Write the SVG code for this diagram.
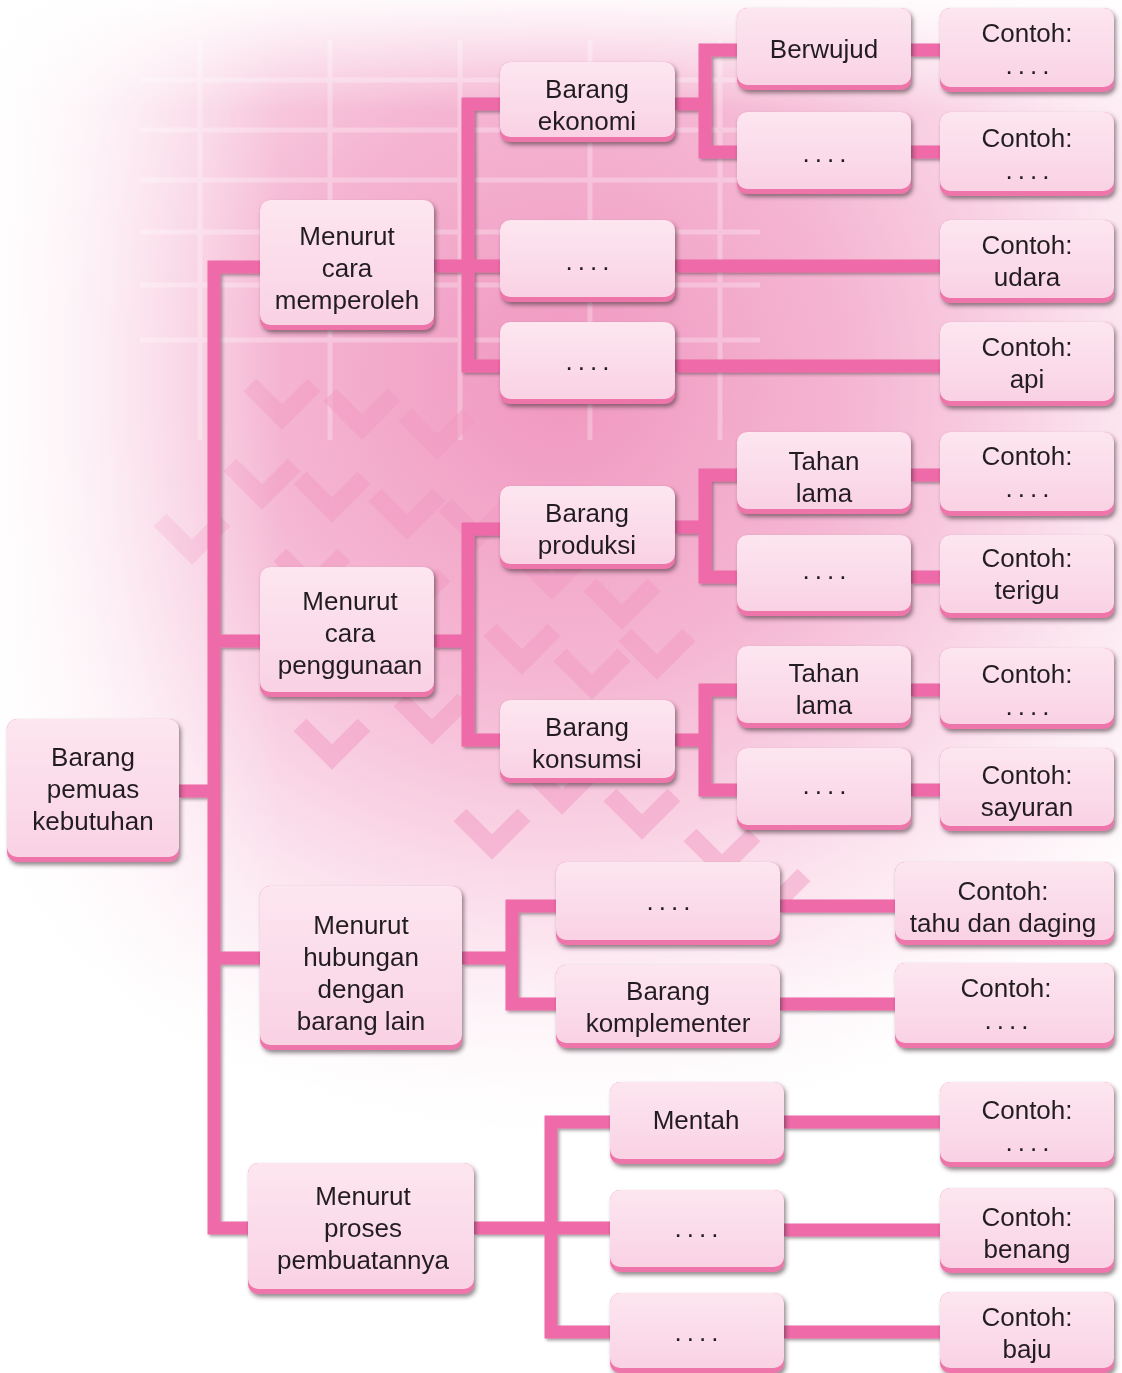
<svg xmlns="http://www.w3.org/2000/svg" width="1122" height="1373" viewBox="0 0 1122 1373">
<style>
.band{fill:#ee74aa}
.face{fill:url(#faceG)}
.bx{filter:url(#sh)}
text{font-family:"Liberation Sans",Arial,sans-serif;font-size:26px;fill:#231f20;text-anchor:middle}
.dots{letter-spacing:5px}
.con{fill:none;stroke:#ef6ba8;stroke-width:13;stroke-linejoin:miter;stroke-linecap:butt}
.grid{stroke:#ffffff;stroke-width:5;fill:none}
.chev{fill:none;stroke:#f29ac2;stroke-width:18}
</style>
<defs>
<linearGradient id="faceG" x1="0" y1="0" x2="0" y2="1">
<stop offset="0" stop-color="#fde6f0"/>
<stop offset="1" stop-color="#f9d2e4"/>
</linearGradient>
<radialGradient id="bgR" cx="560" cy="380" r="760" gradientUnits="userSpaceOnUse">
<stop offset="0" stop-color="#f097c0"/>
<stop offset="0.4" stop-color="#f5b7d3"/>
<stop offset="0.75" stop-color="#fce6f0"/>
<stop offset="1" stop-color="#ffffff"/>
</radialGradient>
<linearGradient id="fadeL" x1="0" y1="0" x2="1" y2="0">
<stop offset="0" stop-color="#ffffff" stop-opacity="0.95"/>
<stop offset="0.25" stop-color="#ffffff" stop-opacity="0"/>
</linearGradient>
<linearGradient id="fadeT" x1="0" y1="0" x2="0" y2="1">
<stop offset="0" stop-color="#ffffff" stop-opacity="0.9"/>
<stop offset="0.08" stop-color="#ffffff" stop-opacity="0"/>
<stop offset="0.68" stop-color="#ffffff" stop-opacity="0"/>
<stop offset="0.82" stop-color="#ffffff" stop-opacity="0.75"/>
<stop offset="1" stop-color="#ffffff" stop-opacity="0.95"/>
</linearGradient>
<filter id="sh" x="-10%" y="-10%" width="125%" height="130%">
<feDropShadow dx="2" dy="3" stdDeviation="2" flood-color="#3a2a30" flood-opacity="0.55"/>
</filter>
<filter id="lsh" x="-5%" y="-5%" width="110%" height="110%">
<feDropShadow dx="2" dy="2" stdDeviation="1.5" flood-color="#3a2a30" flood-opacity="0.45"/>
</filter>
<clipPath id="gclip"><rect x="140" y="40" width="620" height="400"/></clipPath>
</defs>

<g id="background">
<rect x="0" y="0" width="1122" height="1373" fill="#ffffff"/>
<rect x="0" y="0" width="1122" height="1373" fill="url(#bgR)"/>
<g opacity="0.28" clip-path="url(#gclip)">
<path class="grid" d="M140 80 H760 M140 130 H760 M140 180 H760 M140 232 H760 M140 285 H760 M140 340 H760 M200 40 V440 M330 40 V440 M460 40 V440 M590 40 V440 M720 40 V440"/>
</g>
<g opacity="0.5">
<path class="chev" d="M250 385 l32 32 l32 -32 M330 395 l32 32 l32 -32 M405 415 l32 32 l32 -32 M230 465 l32 32 l32 -32 M300 478 l32 32 l32 -32 M375 495 l32 32 l32 -32 M445 505 l32 32 l32 -32 M160 520 l32 32 l32 -32 M280 555 l32 32 l32 -32 M520 555 l32 32 l32 -32 M590 585 l32 32 l32 -32 M380 575 l32 32 l32 -32 M490 630 l32 32 l32 -32 M560 655 l32 32 l32 -32 M625 635 l32 32 l32 -32 M265 640 l32 32 l32 -32 M400 700 l32 32 l32 -32 M300 725 l32 32 l32 -32 M530 770 l32 32 l32 -32 M610 795 l32 32 l32 -32 M460 815 l32 32 l32 -32 M690 835 l32 32 l32 -32 M740 875 l32 32 l32 -32"/>
</g>
<rect x="0" y="0" width="1122" height="1373" fill="url(#fadeL)"/>
<rect x="0" y="0" width="1122" height="1373" fill="url(#fadeT)"/>
</g>

<g id="connectors" filter="url(#lsh)">
<path class="con" d="M179 791 H214"/>
<path class="con" d="M262 267 H214 V1228 H250"/>
<path class="con" d="M214 641 H262"/>
<path class="con" d="M214 958 H262"/>
<path class="con" d="M434 266 H502"/>
<path class="con" d="M502 104 H468 V366 H502"/>
<path class="con" d="M675 104 H705"/>
<path class="con" d="M739 50 H705 V152 H739"/>
<path class="con" d="M911 50 H942"/>
<path class="con" d="M911 152 H942"/>
<path class="con" d="M675 266 H942"/>
<path class="con" d="M675 366 H942"/>
<path class="con" d="M434 641 H468"/>
<path class="con" d="M502 529 H468 V740 H502"/>
<path class="con" d="M675 527 H705"/>
<path class="con" d="M739 475 H705 V577 H739"/>
<path class="con" d="M911 475 H942"/>
<path class="con" d="M911 577 H942"/>
<path class="con" d="M675 740 H705"/>
<path class="con" d="M739 690 H705 V790 H739"/>
<path class="con" d="M911 690 H942"/>
<path class="con" d="M911 790 H942"/>
<path class="con" d="M462 958 H512"/>
<path class="con" d="M558 906 H512 V1004 H558"/>
<path class="con" d="M780 906 H897"/>
<path class="con" d="M780 1004 H897"/>
<path class="con" d="M474 1228 H612"/>
<path class="con" d="M612 1122 H551 V1332 H612"/>
<path class="con" d="M784 1122 H942"/>
<path class="con" d="M784 1230 H942"/>
<path class="con" d="M784 1332 H942"/>
</g>

<g id="n-root" class="bx"><rect class="band" x="7" y="719" width="172" height="143" rx="10"/><rect class="face" x="7" y="719" width="172" height="138" rx="10"/>
<text x="93" y="766">Barang</text><text x="93" y="798">pemuas</text><text x="93" y="830">kebutuhan</text></g>

<g id="n-memperoleh" class="bx"><rect class="band" x="260" y="200" width="174" height="130" rx="10"/><rect class="face" x="260" y="200" width="174" height="125" rx="10"/>
<text x="347" y="245">Menurut</text><text x="347" y="277">cara</text><text x="347" y="309">memperoleh</text></g>

<g id="n-penggunaan" class="bx"><rect class="band" x="260" y="567" width="174" height="130" rx="10"/><rect class="face" x="260" y="567" width="174" height="125" rx="10"/>
<text x="350" y="610">Menurut</text><text x="350" y="642">cara</text><text x="350" y="674">penggunaan</text></g>

<g id="n-hubungan" class="bx"><rect class="band" x="260" y="886" width="202" height="164" rx="10"/><rect class="face" x="260" y="886" width="202" height="159" rx="10"/>
<text x="361" y="934">Menurut</text><text x="361" y="966">hubungan</text><text x="361" y="998">dengan</text><text x="361" y="1030">barang lain</text></g>

<g id="n-proses" class="bx"><rect class="band" x="248" y="1163" width="226" height="131" rx="10"/><rect class="face" x="248" y="1163" width="226" height="126" rx="10"/>
<text x="363" y="1205">Menurut</text><text x="363" y="1237">proses</text><text x="363" y="1269">pembuatannya</text></g>

<g id="n-ekonomi" class="bx"><rect class="band" x="500" y="62" width="175" height="80" rx="10"/><rect class="face" x="500" y="62" width="175" height="75" rx="10"/>
<text x="587" y="98">Barang</text><text x="587" y="130">ekonomi</text></g>

<g id="n-mp-dots1" class="bx"><rect class="band" x="500" y="220" width="175" height="82" rx="10"/><rect class="face" x="500" y="220" width="175" height="77" rx="10"/>
<text class="dots" x="590" y="270">....</text></g>

<g id="n-mp-dots2" class="bx"><rect class="band" x="500" y="322" width="175" height="82" rx="10"/><rect class="face" x="500" y="322" width="175" height="77" rx="10"/>
<text class="dots" x="590" y="370">....</text></g>

<g id="n-produksi" class="bx"><rect class="band" x="500" y="486" width="175" height="83" rx="10"/><rect class="face" x="500" y="486" width="175" height="78" rx="10"/>
<text x="587" y="522">Barang</text><text x="587" y="554">produksi</text></g>

<g id="n-konsumsi" class="bx"><rect class="band" x="500" y="700" width="175" height="83" rx="10"/><rect class="face" x="500" y="700" width="175" height="78" rx="10"/>
<text x="587" y="736">Barang</text><text x="587" y="768">konsumsi</text></g>

<g id="n-berwujud" class="bx"><rect class="band" x="737" y="8" width="174" height="82" rx="10"/><rect class="face" x="737" y="8" width="174" height="77" rx="10"/>
<text x="824" y="58">Berwujud</text></g>

<g id="n-ek-dots" class="bx"><rect class="band" x="737" y="112" width="174" height="82" rx="10"/><rect class="face" x="737" y="112" width="174" height="77" rx="10"/>
<text class="dots" x="827" y="162">....</text></g>

<g id="n-tahan1" class="bx"><rect class="band" x="737" y="432" width="174" height="82" rx="10"/><rect class="face" x="737" y="432" width="174" height="77" rx="10"/>
<text x="824" y="470">Tahan</text><text x="824" y="502">lama</text></g>

<g id="n-pr-dots" class="bx"><rect class="band" x="737" y="535" width="174" height="81" rx="10"/><rect class="face" x="737" y="535" width="174" height="76" rx="10"/>
<text class="dots" x="827" y="579">....</text></g>

<g id="n-tahan2" class="bx"><rect class="band" x="737" y="646" width="174" height="82" rx="10"/><rect class="face" x="737" y="646" width="174" height="77" rx="10"/>
<text x="824" y="682">Tahan</text><text x="824" y="714">lama</text></g>

<g id="n-ko-dots" class="bx"><rect class="band" x="737" y="748" width="174" height="82" rx="10"/><rect class="face" x="737" y="748" width="174" height="77" rx="10"/>
<text class="dots" x="827" y="794">....</text></g>

<g id="n-hb-dots" class="bx"><rect class="band" x="556" y="862" width="224" height="83" rx="10"/><rect class="face" x="556" y="862" width="224" height="78" rx="10"/>
<text class="dots" x="671" y="910">....</text></g>

<g id="n-komplementer" class="bx"><rect class="band" x="556" y="965" width="224" height="83" rx="10"/><rect class="face" x="556" y="965" width="224" height="78" rx="10"/>
<text x="668" y="1000">Barang</text><text x="668" y="1032">komplementer</text></g>

<g id="n-mentah" class="bx"><rect class="band" x="610" y="1082" width="174" height="82" rx="10"/><rect class="face" x="610" y="1082" width="174" height="77" rx="10"/>
<text x="696" y="1129">Mentah</text></g>

<g id="n-pb-dots1" class="bx"><rect class="band" x="610" y="1190" width="174" height="82" rx="10"/><rect class="face" x="610" y="1190" width="174" height="77" rx="10"/>
<text class="dots" x="699" y="1237">....</text></g>

<g id="n-pb-dots2" class="bx"><rect class="band" x="610" y="1293" width="174" height="80" rx="10"/><rect class="face" x="610" y="1293" width="174" height="75" rx="10"/>
<text class="dots" x="699" y="1341">....</text></g>

<g id="c1" class="bx"><rect class="band" x="940" y="8" width="174" height="84" rx="10"/><rect class="face" x="940" y="8" width="174" height="79" rx="10"/>
<text x="1027" y="42">Contoh:</text><text class="dots" x="1030" y="74">....</text></g>
<g id="c2" class="bx"><rect class="band" x="940" y="112" width="174" height="84" rx="10"/><rect class="face" x="940" y="112" width="174" height="79" rx="10"/>
<text x="1027" y="147">Contoh:</text><text class="dots" x="1030" y="179">....</text></g>
<g id="c3" class="bx"><rect class="band" x="940" y="220" width="174" height="83" rx="10"/><rect class="face" x="940" y="220" width="174" height="78" rx="10"/>
<text x="1027" y="254">Contoh:</text><text x="1027" y="286">udara</text></g>
<g id="c4" class="bx"><rect class="band" x="940" y="322" width="174" height="84" rx="10"/><rect class="face" x="940" y="322" width="174" height="79" rx="10"/>
<text x="1027" y="356">Contoh:</text><text x="1027" y="388">api</text></g>
<g id="c5" class="bx"><rect class="band" x="940" y="432" width="174" height="84" rx="10"/><rect class="face" x="940" y="432" width="174" height="79" rx="10"/>
<text x="1027" y="465">Contoh:</text><text class="dots" x="1030" y="497">....</text></g>
<g id="c6" class="bx"><rect class="band" x="940" y="535" width="174" height="83" rx="10"/><rect class="face" x="940" y="535" width="174" height="78" rx="10"/>
<text x="1027" y="567">Contoh:</text><text x="1027" y="599">terigu</text></g>
<g id="c7" class="bx"><rect class="band" x="940" y="648" width="174" height="81" rx="10"/><rect class="face" x="940" y="648" width="174" height="76" rx="10"/>
<text x="1027" y="683">Contoh:</text><text class="dots" x="1030" y="715">....</text></g>
<g id="c8" class="bx"><rect class="band" x="940" y="748" width="174" height="83" rx="10"/><rect class="face" x="940" y="748" width="174" height="78" rx="10"/>
<text x="1027" y="784">Contoh:</text><text x="1027" y="816">sayuran</text></g>
<g id="c9" class="bx"><rect class="band" x="895" y="862" width="219" height="83" rx="10"/><rect class="face" x="895" y="862" width="219" height="78" rx="10"/>
<text x="1003" y="900">Contoh:</text><text x="1003" y="932">tahu dan daging</text></g>
<g id="c10" class="bx"><rect class="band" x="895" y="963" width="219" height="85" rx="10"/><rect class="face" x="895" y="963" width="219" height="80" rx="10"/>
<text x="1006" y="997">Contoh:</text><text class="dots" x="1009" y="1029">....</text></g>
<g id="c11" class="bx"><rect class="band" x="940" y="1082" width="174" height="85" rx="10"/><rect class="face" x="940" y="1082" width="174" height="80" rx="10"/>
<text x="1027" y="1119">Contoh:</text><text class="dots" x="1030" y="1151">....</text></g>
<g id="c12" class="bx"><rect class="band" x="940" y="1188" width="174" height="85" rx="10"/><rect class="face" x="940" y="1188" width="174" height="80" rx="10"/>
<text x="1027" y="1226">Contoh:</text><text x="1027" y="1258">benang</text></g>
<g id="c13" class="bx"><rect class="band" x="940" y="1292" width="174" height="81" rx="10"/><rect class="face" x="940" y="1292" width="174" height="76" rx="10"/>
<text x="1027" y="1326">Contoh:</text><text x="1027" y="1358">baju</text></g>
</svg>
